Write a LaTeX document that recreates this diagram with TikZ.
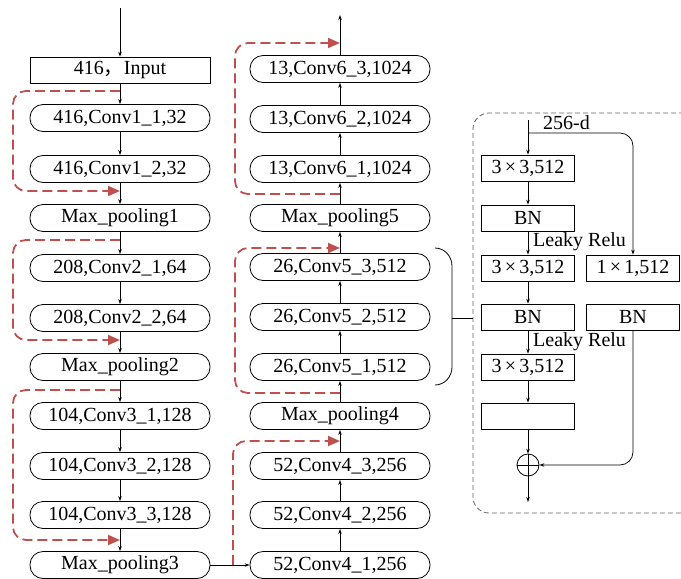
\documentclass[tikz,border=0pt]{standalone}
\usepackage{fontspec}
\setmainfont{Liberation Serif}
\newfontfamily\cjk{Noto Sans CJK SC}
\usetikzlibrary{arrows.meta,calc}
\definecolor{resred}{RGB}{192,80,77}
\definecolor{blkgray}{RGB}{100,100,100}

\begin{document}
\begin{tikzpicture}[x=1pt,y=-1pt,font=\fontsize{20}{22}\selectfont,
  layer/.style={draw=black,line width=0.8pt,rounded corners=13pt,minimum width=180pt,
                minimum height=27pt,inner sep=0pt},
  inbox/.style={draw=black,line width=0.8pt,minimum width=180pt,minimum height=26pt,inner sep=0pt},
  op/.style={draw=black,line width=0.8pt,minimum width=93pt,minimum height=26pt,inner sep=0pt},
  fl/.style={-{Stealth[length=5pt,width=3.5pt]},line width=0.7pt},
  res/.style={draw=resred,line width=1.8pt,dash pattern=on 10pt off 5pt,rounded corners=13pt,
              -{Triangle[length=12pt,width=10pt]}},
  lab/.style={inner sep=0pt}]
\useasboundingbox (0,0) rectangle (681,579);
% ---- left column (downwards)
\node[inbox] (in)  at (120,70)  {416{\cjk ，}Input};
\node[layer] (c11) at (120,118) {416,Conv1\_1,32};
\node[layer] (c12) at (120,169) {416,Conv1\_2,32};
\node[layer] (mp1) at (120,218) {Max\_pooling1};
\node[layer] (c21) at (120,268) {208,Conv2\_1,64};
\node[layer] (c22) at (120,318) {208,Conv2\_2,64};
\node[layer] (mp2) at (120,367) {Max\_pooling2};
\node[layer] (c31) at (120,416) {104,Conv3\_1,128};
\node[layer] (c32) at (120,466) {104,Conv3\_2,128};
\node[layer] (c33) at (120,515) {104,Conv3\_3,128};
\node[layer] (mp3) at (120,565) {Max\_pooling3};
% ---- middle column (upwards)
\node[layer] (c41) at (340,565) {52,Conv4\_1,256};
\node[layer] (c42) at (340,515) {52,Conv4\_2,256};
\node[layer] (c43) at (340,466) {52,Conv4\_3,256};
\node[layer] (mp4) at (340,416) {Max\_pooling4};
\node[layer] (c51) at (340,367) {26,Conv5\_1,512};
\node[layer] (c52) at (340,317) {26,Conv5\_2,512};
\node[layer] (c53) at (340,267) {26,Conv5\_3,512};
\node[layer] (mp5) at (340,218) {Max\_pooling5};
\node[layer] (c61) at (340,169) {13,Conv6\_1,1024};
\node[layer] (c62) at (340,119) {13,Conv6\_2,1024};
\node[layer] (c63) at (340,69)  {13,Conv6\_3,1024};
\coordinate (top) at (120,8);
\coordinate (out) at (340,15);
% ---- residual block
\node[draw=blkgray,line width=0.8pt,dash pattern=on 5pt off 3pt,rounded corners=16pt,
      minimum width=227pt,minimum height=400pt] (blk) at (586.5,313) {};
\node[op] (b1)  at (528,168) {3\,×\,3,512};
\node[op] (bn1) at (528,218) {BN};
\node[op] (b2)  at (528,268) {3\,×\,3,512};
\node[op] (bn2) at (528,317) {BN};
\node[op] (b3)  at (528,367) {3\,×\,3,512};
\node[op] (e)   at (528,416) {};
\node[op] (s1)  at (633,268) {1\,×\,1,512};
\node[op] (sbn) at (633,317) {BN};
\node[circle,draw=black,line width=0.8pt,minimum size=22pt,inner sep=0pt] (add) at (528,465) {};
\draw[line width=0.8pt] (add.north) -- (add.south) (add.west) -- (add.east);
\coordinate (bin) at (528,120);
\coordinate (bsp) at (528,133);
\coordinate (bout) at (528,502);
\node[lab,anchor=west] (dim) at (543,123) {256-d};
\node[lab,anchor=west] (lr1) at (533,242) {Leaky Relu};
\node[lab,anchor=west] (lr2) at (533,342) {Leaky Relu};
% ---- main flows
\draw[fl] (top) -- (in);
\draw[fl] (in) -- (c11);
\draw[fl] (c11) -- (c12);
\draw[fl] (c12) -- (mp1);
\draw[fl] (mp1) -- (c21);
\draw[fl] (c21) -- (c22);
\draw[fl] (c22) -- (mp2);
\draw[fl] (mp2) -- (c31);
\draw[fl] (c31) -- (c32);
\draw[fl] (c32) -- (c33);
\draw[fl] (c33) -- (mp3);
\draw[fl] (mp3) -- (c41);
\draw[fl] (c41) -- (c42);
\draw[fl] (c42) -- (c43);
\draw[fl] (c43) -- (mp4);
\draw[fl] (mp4) -- (c51);
\draw[fl] (c51) -- (c52);
\draw[fl] (c52) -- (c53);
\draw[fl] (c53) -- (mp5);
\draw[fl] (mp5) -- (c61);
\draw[fl] (c61) -- (c62);
\draw[fl] (c62) -- (c63);
\draw[fl] (c63) -- (out);
% ---- shortcuts
\draw[res] (120,91)  -| (13,191) -- (120,191);
\draw[res] (120,240) -| (13,340) -- (120,340);
\draw[res] (120,390) -| (13,540) -- (120,540);
\draw[res] (233,0 |- mp3) |- (340,441);
\draw[res] (340,393) -| (235,248) -- (340,248);
\draw[res] (340,194) -| (235,43)  -- (340,43);
% ---- brace to block
\draw[line width=0.8pt] (435,248) to[out=0,in=90] (452,266) -- (452,367) to[out=-90,in=0] (435,385);
\draw[line width=0.8pt] (452,318) -- (452,318 -| blk.west);
% ---- block flows
\draw[fl] (bin) -- (b1);
\draw[fl] (b1) -- (bn1);
\draw[fl] (bn1) -- (b2);
\draw[fl] (b2) -- (bn2);
\draw[fl] (bn2) -- (b3);
\draw[fl] (b3) -- (e);
\draw[fl] (e) -- (add);
\draw[fl] (add) -- (bout);
\draw[fl,rounded corners=13pt] (bsp) -| (s1.north);
\draw[fl,rounded corners=13pt] (sbn.south) |- (add.east);
\end{tikzpicture}
\end{document}
